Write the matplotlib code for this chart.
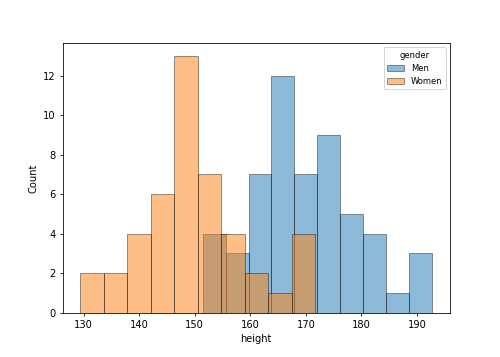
import numpy as np
import matplotlib
matplotlib.use("Agg")
import matplotlib.pyplot as plt

# bin edges and counts
women_edges = np.linspace(129.35, 171.7, 11)
women_counts = [2, 2, 4, 6, 13, 7, 4, 2, 1, 4]

men_edges = np.linspace(151.4, 192.8, 11)
men_counts = [4, 3, 7, 12, 7, 9, 5, 4, 1, 3]

fig = plt.figure(figsize=(7, 5), dpi=500 / 7)
ax = fig.add_subplot(111)
fig.subplots_adjust(left=0.125, right=0.9, bottom=0.124, top=0.879)

# men first, women drawn on top
ax.bar(men_edges[:-1], men_counts, width=np.diff(men_edges), align="edge",
       color="tab:blue", alpha=0.5, edgecolor="black", linewidth=0.8, label="Men")
ax.bar(women_edges[:-1], women_counts, width=np.diff(women_edges), align="edge",
       color="tab:orange", alpha=0.5, edgecolor="black", linewidth=0.8, label="Women")

ax.set_xlabel("height")
ax.set_ylabel("Count")

ax.legend(title="gender", loc="upper right", fontsize=8.5, title_fontsize=8.5)

fig.savefig("out.png", dpi=500 / 7)
